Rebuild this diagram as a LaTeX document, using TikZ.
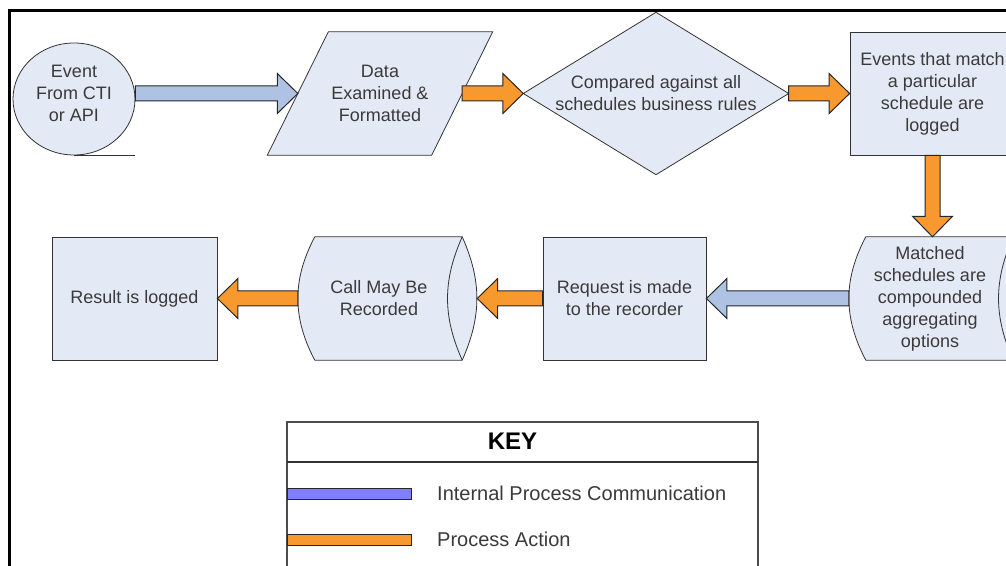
\documentclass[tikz,border=0pt]{standalone}
\usepackage{fontspec}
\setmainfont{Liberation Sans}
\usetikzlibrary{shapes.geometric,calc,positioning,backgrounds}

\definecolor{boxfill}{HTML}{E4EAF5}
\definecolor{commblue}{HTML}{AEC3E3}
\definecolor{actorange}{HTML}{F7992F}
\definecolor{keyblue}{HTML}{8080FF}
\definecolor{txtgray}{HTML}{3A3A3A}

\newcommand\boxfont{\fontsize{18pt}{22pt}\selectfont}
\newcommand\keyfont{\fontsize{20pt}{24pt}\selectfont}

% block arrow with its tip at #3
\newcommand\fatarrow[3]{%
  \draw[#1] ($(#2)!7.5pt!90:(#3)$)
    -- ($(#3)!20.5pt!(#2)!7.5pt!90:(#3)$)
    -- ($(#3)!20.5pt!(#2)!20pt!90:(#3)$)
    -- (#3)
    -- ($(#3)!20.5pt!(#2)!20pt!-90:(#3)$)
    -- ($(#3)!20.5pt!(#2)!7.5pt!-90:(#3)$)
    -- ($(#2)!7.5pt!-90:(#3)$) -- cycle;}

\begin{document}
\begin{tikzpicture}[x=1pt, y=1pt,
  txt/.style={text=txtgray, align=center, font=\boxfont, inner sep=0pt},
  chartshape/.style={draw=black!80, fill=boxfill, line width=0.8pt},
  proc/.style={txt, chartshape, minimum height=123pt},
  drum/.style={minimum width=179pt, minimum height=123pt, inner sep=0pt},
  comm/.style={draw=black!85, fill=commblue, line width=1pt},
  action/.style={draw=black!85, fill=actorange, line width=1pt},
  keybar/.style={draw=black!85, line width=1pt, minimum width=124pt, minimum height=11pt, inner sep=0pt, anchor=west},
  keytext/.style={text=txtgray, font=\keyfont, inner sep=0pt, anchor=west}]

\useasboundingbox (0,0) rectangle (1006,565);
\clip (0,0) rectangle (1006,565);

% page frame
\draw[line width=2.6pt] (9.7,-20) |- (1030,554.7);

% top row
\node[chartshape, ellipse, minimum width=122pt, minimum height=112pt, inner sep=0pt] (event) at (74,466) {};
\node[txt] (eventtxt) at ([yshift=6pt]event.center) {Event\\From CTI\\or API};
\draw[black!80, line width=0.8pt] (event.south) -- ++(61,0);

\node[txt, minimum width=164pt, minimum height=123pt] (data) at (380,471.5) {Data\\Examined \&\\Formatted};
\node[txt, minimum width=265pt, minimum height=162pt] (cmp) at (656,471.5) {Compared against all\\schedules business rules};
\node[proc, minimum width=165pt] (logged) at (932.5,471.5) {Events that match\\a particular\\schedule are\\logged};

% bottom row
\node[proc, minimum width=165pt] (result) at (134.5,266.5) {Result is logged};
\node[drum, label={[txt, xshift=-8.5pt]center:Call May Be\\Recorded}] (call) at (387.5,266.5) {};
\node[proc, minimum width=163pt] (request) at (624.5,266.5) {Request is made\\to the recorder};
\node[drum, label={[txt, xshift=-8.5pt]center:Matched\\schedules are\\compounded\\aggregating\\options}] (matched) at (938.5,266.5) {};

\begin{pgfonlayer}{background}
  \draw[chartshape] ([xshift=30.5pt]data.north west) -- ([xshift=30.5pt]data.north east)
    -- ([xshift=-30.5pt]data.south east) -- ([xshift=-30.5pt]data.south west) -- cycle;
  \draw[chartshape] (cmp.west) -- (cmp.north) -- (cmp.east) -- (cmp.south) -- cycle;
  \foreach \d in {call, matched} {
    \draw[chartshape] ([xshift=17pt]\d.north west) -- ([xshift=-15pt]\d.north east)
      to[bend left=24] ([xshift=-15pt]\d.south east) -- ([xshift=17pt]\d.south west)
      to[bend left=28] ([xshift=17pt]\d.north west) -- cycle;
    \draw[chartshape, fill=none] ([xshift=-15pt]\d.north east) to[bend right=24] ([xshift=-15pt]\d.south east);
  }
\end{pgfonlayer}

% connectors
\coordinate (evout) at (event.east |- data.west);
\coordinate (mtop) at (logged.south |- matched.north);
\fatarrow{comm}{evout}{data.west}
\fatarrow{action}{data.east}{cmp.west}
\fatarrow{action}{cmp.east}{logged.west}
\fatarrow{action}{logged.south}{mtop}
\fatarrow{comm}{matched.west}{request.east}
\fatarrow{action}{request.west}{call.east}
\fatarrow{action}{call.west}{result.east}

% key
\draw[black!70, line width=1.6pt] (287,-20) |- (758,143) -- (758,-20);
\draw[black!80, line width=1.4pt] (287,103) -- (758,103);
\node[font=\fontsize{24pt}{28pt}\selectfont\bfseries, inner sep=0pt] (keyhead) at (512.5,124) {KEY};
\node[keybar, fill=keyblue] (kbcomm) at (287,71.5) {};
\node[keytext, right=25pt of kbcomm] (ktcomm) {Internal Process Communication};
\node[keybar, fill=actorange] (kbact) at (287,25.5) {};
\node[keytext, right=25pt of kbact] (ktact) {Process Action};
\end{tikzpicture}
\end{document}
